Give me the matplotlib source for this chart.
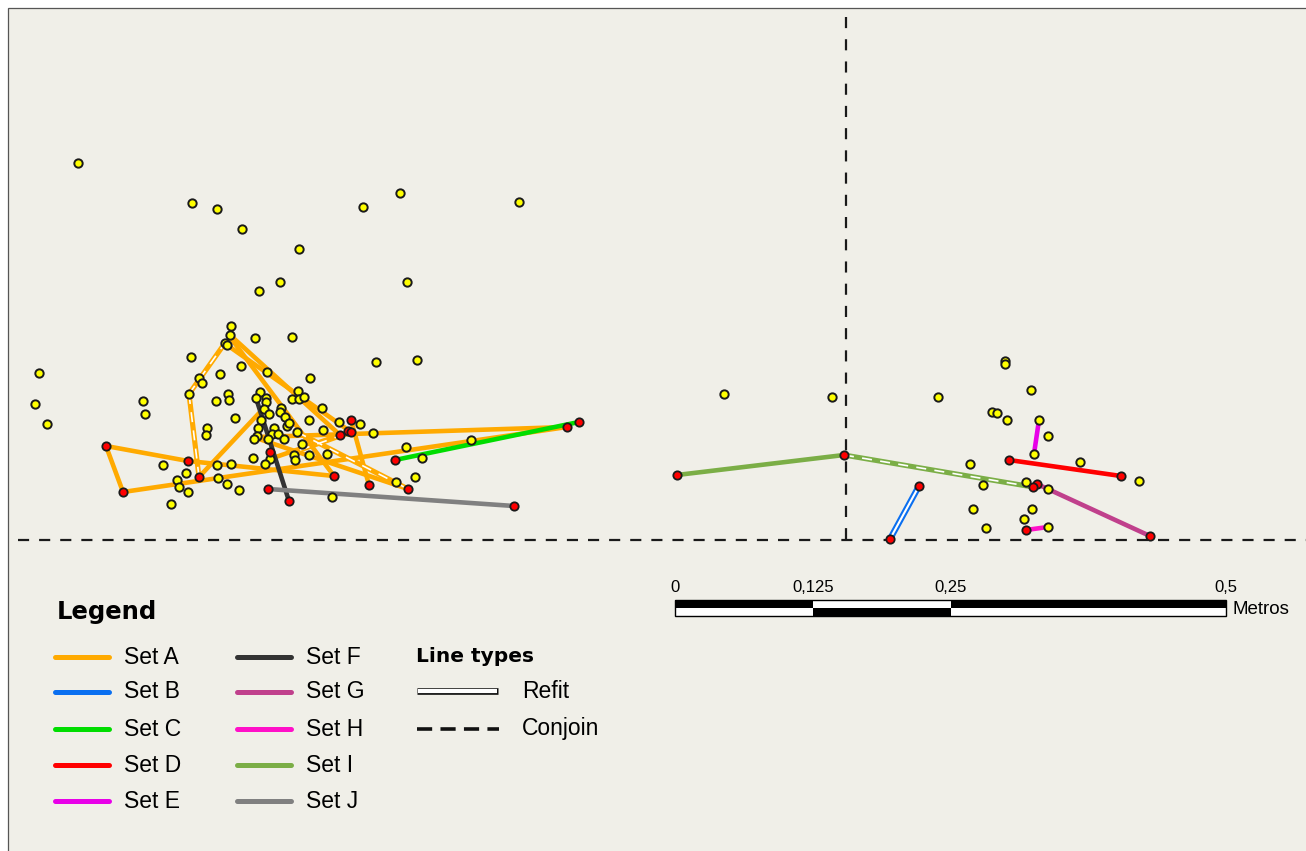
import matplotlib
matplotlib.use("Agg")
import matplotlib.pyplot as plt
from matplotlib.patches import Rectangle

W, H = 1306, 851
BG = "#f0efe8"
FONT = "Liberation Sans"

# map coordinates (map units, y grows downwards like the plan)
left_finds = [
    (78, 163), (192, 203), (217, 209), (242, 229), (299, 249), (363, 207), (400, 193), (519, 202),
    (280, 282), (259, 291), (407, 282),
    (231, 326), (230, 335), (225, 343), (227, 345), (255, 338), (292, 337),
    (191, 357), (376, 362), (417, 360),
    (199, 378), (202, 383), (220, 374), (241, 366), (267, 372), (310, 378),
    (189, 394), (143, 401), (145, 414), (216, 401), (228, 394), (229, 400),
    (235, 418), (207, 428), (206, 435),
    (260, 392), (256, 398), (266, 398), (266, 402), (264, 409), (269, 414),
    (281, 408), (280, 412), (298, 391), (292, 399), (299, 399), (304, 397),
    (285, 417), (287, 426), (289, 423), (261, 420), (258, 428),
    (274, 428), (272, 434), (278, 434), (284, 439),
    (257, 436), (254, 439), (268, 439), (297, 432), (309, 420), (302, 444),
    (322, 408), (339, 422), (360, 424), (323, 430), (373, 433),
    (253, 458), (270, 459), (265, 464), (294, 455), (295, 460), (309, 455), (327, 454),
    (163, 465), (217, 465), (231, 464), (186, 473), (177, 480), (179, 487), (188, 492),
    (218, 478), (227, 484), (239, 490), (171, 504), (332, 497),
    (406, 447), (422, 458), (396, 482), (415, 477), (471, 440),
    (39, 373), (35, 404), (47, 424),
]
right_finds = [
    (724, 394), (832, 397), (1005, 361), (1005, 364), (1031, 390), (938, 397),
    (992, 412), (997, 413), (1007, 420), (1039, 420), (1048, 436), (1034, 454),
    (1080, 462), (1139, 481), (970, 464), (983, 485), (1026, 482), (1048, 489),
    (973, 509), (1032, 509), (1024, 519), (986, 528), (1048, 527),
]
linked_finds = [
    (106, 446), (188, 461), (123, 492), (199, 477), (270, 452), (268, 489), (289, 501), (514, 506),
    (351, 420), (340, 435), (348, 431), (351, 432), (334, 476), (369, 485), (408, 489),
    (395, 460), (567, 427), (579, 422),
    (677, 475), (844, 455), (890, 539), (919, 486), (1009, 460), (1121, 476),
    (1037, 484), (1033, 487), (1150, 536), (1026, 530),
]

# links per set: (from, to, kind)  s = plain, c = conjoin, r = refit
set_a = [
    ((106, 446), (188, 461), "s"), ((188, 461), (334, 476), "s"),
    ((106, 446), (123, 492), "s"), ((123, 492), (567, 427), "s"),
    ((199, 477), (262, 410), "s"), ((230, 335), (340, 435), "s"),
    ((227, 345), (351, 432), "s"), ((230, 337), (334, 476), "s"),
    ((351, 420), (369, 485), "s"), ((258, 437), (567, 427), "s"),
    ((262, 440), (408, 489), "s"), ((340, 435), (270, 459), "s"),
    ((189, 394), (199, 477), "c"), ((189, 394), (225, 343), "c"),
    ((297, 432), (408, 489), "c"), ((300, 450), (351, 432), "c"),
]
set_b = [((890, 539), (919, 486), "r")]
set_c = [((395, 460), (579, 422), "s")]
set_d = [((1009, 460), (1121, 476), "s")]
set_e = [((1034, 454), (1039, 420), "s")]
set_f = [((256, 398), (289, 501), "s")]
set_g = [((1037, 484), (1150, 536), "s")]
set_h = [((1026, 530), (1048, 527), "s")]
set_i = [((677, 475), (844, 455), "s"), ((844, 455), (1033, 487), "c")]
set_j = [((268, 489), (514, 506), "s")]

set_names = ["Set A", "Set B", "Set C", "Set D", "Set E", "Set F", "Set G", "Set H", "Set I", "Set J"]
set_colors = ["#ffaa00", "#0a6ff0", "#00dd00", "#ff0000", "#e800e8",
              "#333333", "#c0408c", "#ff10c8", "#7bae46", "#808080"]
set_links = [set_a, set_b, set_c, set_d, set_e, set_f, set_g, set_h, set_i, set_j]

scale_ticks = [0, 0.125, 0.25, 0.5]
scale_labels = ["0", "0,125", "0,25", "0,5"]


def draw_link(ax, p, q, color, kind, lw=3.3):
    xs, ys = [p[0], q[0]], [p[1], q[1]]
    if kind == "r":
        ax.plot(xs, ys, color=color, lw=lw + 1.2, zorder=2)
        ax.plot(xs, ys, color="white", lw=1.5, zorder=2.1)
    elif kind == "c":
        ax.plot(xs, ys, color=color, lw=lw + 0.4, zorder=2)
        ax.plot(xs, ys, color="white", lw=1.2, dashes=(6, 5), zorder=2.1)
    else:
        ax.plot(xs, ys, color=color, lw=lw, zorder=2)


fig = plt.figure(figsize=(W / 100, H / 100), dpi=100, facecolor="white")
ax = fig.add_axes([0, 0, 1, 1])
ax.set_xlim(0, W)
ax.set_ylim(H, 0)
ax.axis("off")

# frame
ax.add_patch(Rectangle((7.5, 7.5), W, H, facecolor=BG, edgecolor="#555555", lw=0.9, zorder=0))

# grid lines of the excavation
ax.plot([18, W], [540, 540], color="#1a1a1a", lw=1.6, dashes=(5, 4.5), zorder=1)
ax.plot([846, 846], [17, 540], color="#1a1a1a", lw=1.6, dashes=(5, 5), zorder=1)

for links, col in zip(set_links, set_colors):
    for p, q, kind in links:
        draw_link(ax, p, q, col, kind)

finds = left_finds + right_finds
ax.plot([p[0] for p in finds], [p[1] for p in finds], "o", ms=6, mfc="#ffff00",
        mec="#1a1a1a", mew=1.4, ls="none", zorder=3)
ax.plot([p[0] for p in linked_finds], [p[1] for p in linked_finds], "o", ms=6, mfc="#ff0000",
        mec="#1a1a1a", mew=1.3, ls="none", zorder=3.5)

# legend
ax.text(57, 612, "Legend", fontsize=17.5, fontweight="bold", family="DejaVu Sans", va="center", ha="left")
rows_y = [657, 692, 729, 765, 801]
for i, (name, col) in enumerate(zip(set_names, set_colors)):
    x0 = 55 if i < 5 else 237
    y = rows_y[i % 5]
    ax.plot([x0, x0 + 54], [y, y], color=col, lw=3.6, solid_capstyle="round")
    ax.text(x0 + 69, y, name, fontsize=16.5, family=FONT, va="center", ha="left")

ax.text(416, 657, "Line types", fontsize=14.5, fontweight="bold", family="DejaVu Sans", va="center", ha="left")
ax.plot([417, 498], [691, 691], color="#111111", lw=4.8, solid_capstyle="butt")
ax.plot([418, 497], [691, 691], color="white", lw=3.0, solid_capstyle="butt")
ax.text(522, 691, "Refit", fontsize=16.5, family=FONT, va="center", ha="left")
ax.plot([417, 499], [729, 729], color="#111111", lw=2.6, dashes=(4.2, 2.3))
ax.text(522, 729, "Conjoin", fontsize=16.5, family=FONT, va="center", ha="left")

# scale bar (metres)
x0, px_m = 675, 1102
for k in range(len(scale_ticks) - 1):
    a = x0 + scale_ticks[k] * px_m
    b = x0 + scale_ticks[k + 1] * px_m
    top, bot = ("black", "white") if k % 2 == 0 else ("white", "black")
    ax.add_patch(Rectangle((a, 600), b - a, 8, facecolor=top, edgecolor="none"))
    ax.add_patch(Rectangle((a, 608), b - a, 8, facecolor=bot, edgecolor="none"))
ax.add_patch(Rectangle((x0, 600), scale_ticks[-1] * px_m, 16, facecolor="none", edgecolor="black", lw=1))
for t, lab in zip(scale_ticks, scale_labels):
    ax.text(x0 + t * px_m, 587, lab, fontsize=12, family=FONT, ha="center", va="center")
ax.text(1232, 609, "Metros", fontsize=13.5, family=FONT, ha="left", va="center")

fig.savefig("out.png", dpi=100, facecolor="white")
